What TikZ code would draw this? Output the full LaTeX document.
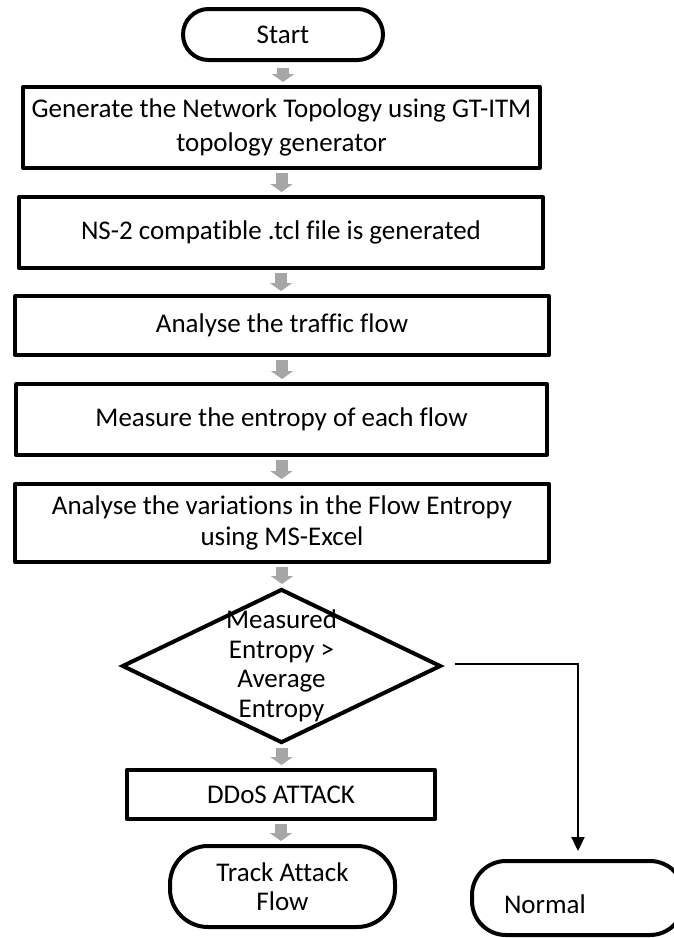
\documentclass[tikz,border=0pt]{standalone}
\usepackage{fontspec}
\setmainfont{Carlito}[Ligatures=CommonOff]
\usetikzlibrary{shapes.geometric,arrows.meta}
\definecolor{arrowgray}{RGB}{166,166,166}

\begin{document}
\begin{tikzpicture}[x=1pt,y=-1pt,
  every node/.style={font=\fontsize{27}{34}\selectfont},
  tight/.style={font=\fontsize{27}{29.5}\selectfont},
  box/.style={draw, line width=4pt, line join=round, inner sep=0pt, align=center},
  term/.style={box},
  decision/.style={draw, line width=4pt, diamond, inner sep=-25pt, align=center, tight},
  flowarrow/.style={draw=arrowgray, line width=12pt, line cap=butt,
    -{Triangle[length=8pt,width=22pt]}, shorten <=3pt, shorten >=3pt},
  branch/.style={draw, line width=2.2pt, -{Triangle[length=14pt,width=13pt]}},
]
\useasboundingbox (0,0) rectangle (673,938);

% process chain
\node[term, minimum width=200pt, minimum height=51pt, rounded corners=25.5pt] (start) at (283,34.5) {Start};
\node[box, minimum width=517pt, minimum height=81pt] (topo) at (281.5,127.5)
  {Generate the Network Topology using GT-ITM\\topology generator};
\node[box, minimum width=524pt, minimum height=71pt] (tcl) at (281,232.5)
  {NS-2 compatible .tcl file is generated};
\node[box, minimum width=534pt, minimum height=59pt] (traffic) at (282,325.5)
  {Analyse the traffic flow};
\node[box, minimum width=531pt, minimum height=71pt] (entropy) at (281.5,419.5)
  {Measure the entropy of each flow};
\node[box, minimum width=534pt, minimum height=78pt, font=\fontsize{27}{31.5}\selectfont] (excel) at (282,523)
  {Analyse the variations in the Flow Entropy\\using MS-Excel};
\node[decision, minimum width=319pt, minimum height=154pt] (dia) at (281.5,666)
  {Measured\\Entropy >\\Average\\Entropy};
\node[box, minimum width=308.5pt, minimum height=49pt] (ddos) at (281,794.5)
  {DDoS ATTACK};
\node[term, tight, minimum width=225pt, minimum height=81pt, rounded corners=38pt] (track) at (282.5,886.5)
  {Track Attack\\Flow};
\node[term, text width=148pt, inner xsep=32pt, minimum height=74pt, align=left,
  text height=30pt, text depth=0pt, rounded corners=34pt] (normal) at (578,898) {Normal};

% grey block arrows between the steps
\draw[flowarrow, shorten <=6pt] (start.south) -- (start.south |- topo.north);
\draw[flowarrow] (topo.south) -- (topo.south |- tcl.north);
\draw[flowarrow] (tcl.south) -- (tcl.south |- traffic.north);
\draw[flowarrow] (traffic.south) -- (traffic.south |- entropy.north);
\draw[flowarrow] (entropy.south) -- (entropy.south |- excel.north);
\draw[flowarrow] (excel.south) -- (excel.south |- dia.north);
\draw[flowarrow] (dia.south) -- (dia.south |- ddos.north);
\draw[flowarrow] (ddos.south) -- (ddos.south |- track.north);

% "no" branch
\draw[branch] ([xshift=12pt,yshift=2pt]dia.east) -| ([yshift=8pt]normal.north);
\end{tikzpicture}
\end{document}
